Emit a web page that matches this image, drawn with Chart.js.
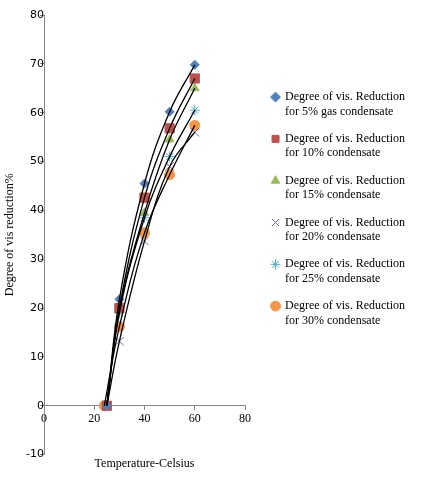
<!DOCTYPE html>
<html lang="en">
<head>
    <meta charset="UTF-8">
    <title>Degree of vis reduction</title>
    <script src="https://cdn.jsdelivr.net/npm/chart.js"></script>
    <style>
        html, body { margin: 0; padding: 0; background: #fff; }
        #wrap { width: 437px; height: 483px; }
    </style>
</head>
<body>
    <div id="wrap"><canvas id="visChart" width="437" height="483"></canvas></div>

    <script>
        // temperatures (Celsius)
        const temps = [25, 30, 40, 50, 60];
        const temps30 = [24, 30, 40, 50, 60];

        // degree of viscosity reduction, %
        const red5 = [0, 21.8, 45.5, 60.2, 69.8];
        const red10 = [0, 20, 42.6, 56.8, 67];
        const red15 = [0, 19.5, 39.5, 54.5, 65];
        const red20 = [0, 13.2, 33.7, 49, 56];
        const red25 = [0, 19, 38.5, 51, 60.5];
        const red30 = [0, 16.2, 35.4, 47.3, 57.4];

        const seriesLabels = [
            ['Degree of vis. Reduction', 'for 5% gas condensate'],
            ['Degree of vis. Reduction', 'for 10% condensate'],
            ['Degree of vis. Reduction', 'for 15% condensate'],
            ['Degree of vis. Reduction', 'for 20% condensate'],
            ['Degree of vis. Reduction', 'for 25% condensate'],
            ['Degree of vis. Reduction', 'for 30% condensate']
        ];
        const yTicks = [-10, 0, 10, 20, 30, 40, 50, 60, 70, 80];
        const xTicks = [0, 20, 40, 60, 80];
        const yTitle = 'Degree of vis reduction%';
        const xTitle = 'Temperature-Celsius';

        const series = [
            { x: temps, y: red5, color: '#4F81BD', style: 'rectRot', r: 4.5 },
            { x: temps, y: red10, color: '#C0504D', style: 'rect', r: 6.5 },
            { x: temps, y: red15, color: '#9BBB59', style: 'triangle', r: 5 },
            { x: temps, y: red20, color: '#8064A2', style: 'crossRot', r: 6 },
            { x: temps, y: red25, color: '#4BACC6', style: 'star', r: 5 },
            { x: temps30, y: red30, color: '#F79646', style: 'circle', r: 5 }
        ];

        const pts = s => s.x.map((t, i) => ({ x: t, y: s.y[i] }));

        const markerSets = series.map((s, i) => ({
            label: seriesLabels[i],
            data: pts(s),
            showLine: false,
            pointStyle: s.style,
            pointRadius: s.r,
            borderWidth: 1,
            backgroundColor: s.color,
            borderColor: s.color,
            order: 1
        }));

        // smoothed black trend curves through each series
        const curveSets = series.map(s => ({
            label: 'trend',
            data: pts(s),
            showLine: true,
            pointRadius: 0,
            borderColor: '#000',
            borderWidth: 1.3,
            tension: 0.4,
            fill: false,
            order: 0
        }));

        const serif = '"Liberation Serif", "DejaVu Serif", serif';
        const sans = '"DejaVu Sans", sans-serif';

        // gap between plot and legend, and lift the legend a bit
        const legendShift = { x: 14, y: -38 };
        const legendGap = {
            id: 'legendGap',
            beforeLayout(chart) {
                const lg = chart.legend;
                if (!lg || lg._gap) return;
                const fit = lg.fit, draw = lg.draw;
                lg.fit = function () { fit.call(this); this.width += legendShift.x; };
                lg.draw = function () {
                    this.left += legendShift.x;
                    this.top += legendShift.y;
                    this.bottom += legendShift.y;
                    draw.call(this);
                    this.left -= legendShift.x;
                    this.top -= legendShift.y;
                    this.bottom -= legendShift.y;
                };
                lg._gap = true;
            }
        };

        // y axis title, reads bottom to top
        const yTitlePlugin = {
            id: 'yTitle',
            afterDraw(chart) {
                const { ctx, chartArea } = chart;
                ctx.save();
                ctx.translate(10, (chartArea.top + chartArea.bottom) / 2);
                ctx.rotate(-Math.PI / 2);
                ctx.font = '12px ' + serif;
                ctx.fillStyle = '#000';
                ctx.textAlign = 'center';
                ctx.textBaseline = 'middle';
                ctx.fillText(yTitle, 0, 0);
                ctx.restore();
            }
        };

        new Chart(document.getElementById('visChart'), {
            type: 'scatter',
            data: { datasets: markerSets.concat(curveSets) },
            plugins: [legendGap, yTitlePlugin],
            options: {
                responsive: false,
                animation: false,
                layout: { padding: { top: 15, right: 22, left: 44, bottom: 2 } },
                scales: {
                    x: {
                        type: 'linear',
                        min: 0, max: 80,
                        position: { y: 0 },
                        afterBuildTicks: axis => { axis.ticks = xTicks.map(v => ({ value: v })); },
                        grid: { drawOnChartArea: false, drawTicks: true, tickLength: 4, color: '#868686' },
                        border: { color: '#868686', width: 1 },
                        ticks: { color: '#000', font: { family: serif, size: 12 }, padding: 2, maxRotation: 0 }
                    },
                    y: {
                        min: -10, max: 80,
                        position: { x: 0 },
                        afterBuildTicks: axis => { axis.ticks = yTicks.map(v => ({ value: v })); },
                        grid: { drawOnChartArea: false, drawTicks: true, tickLength: 4, color: '#868686' },
                        border: { color: '#868686', width: 1 },
                        ticks: { color: '#000', font: { family: sans, size: 11 }, padding: 5 }
                    }
                },
                plugins: {
                    legend: {
                        position: 'right',
                        align: 'center',
                        maxWidth: 200,
                        labels: {
                            filter: item => item.text !== 'trend',
                            usePointStyle: true,
                            boxWidth: 7,
                            boxHeight: 7,
                            padding: 13,
                            color: '#000',
                            font: { family: serif, size: 12 }
                        }
                    },
                    title: {
                        display: true,
                        position: 'bottom',
                        fullSize: false,
                        text: xTitle,
                        color: '#000',
                        font: { family: serif, size: 12, weight: 'normal' },
                        padding: { top: 2, bottom: 10 }
                    },
                    tooltip: { enabled: false }
                }
            }
        });
    </script>
</body>
</html>
